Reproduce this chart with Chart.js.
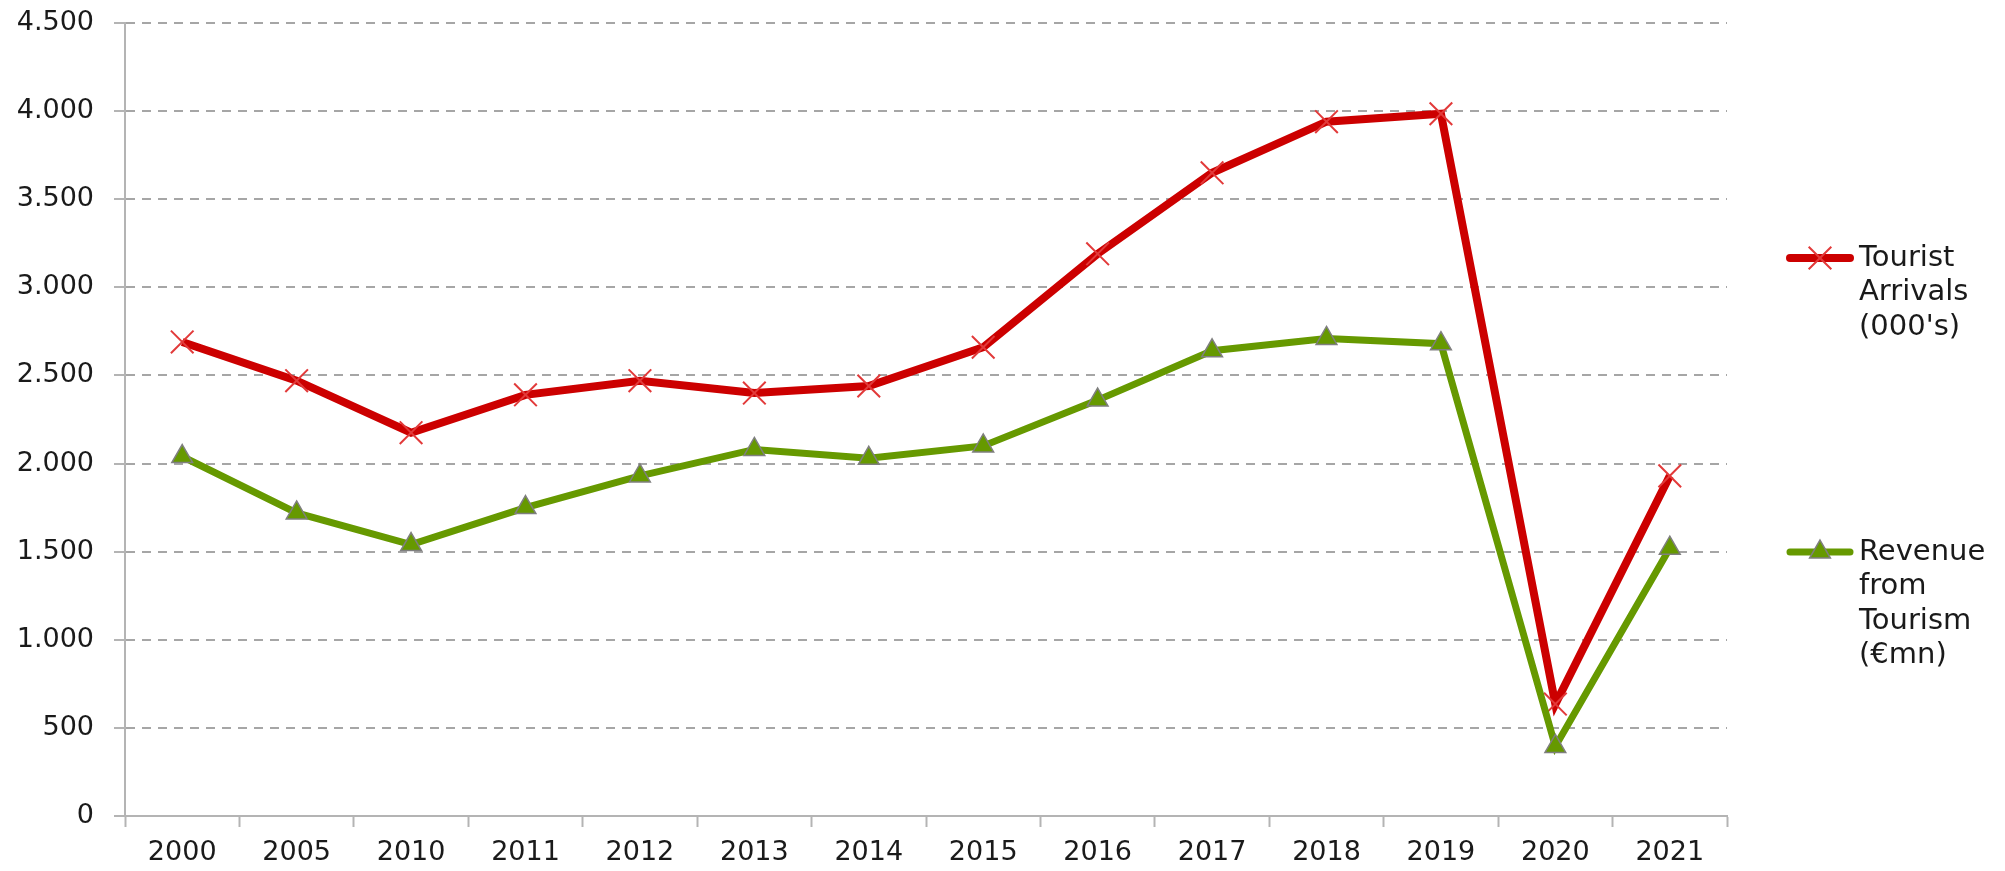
<!DOCTYPE html>
<html>
<head>
<meta charset="utf-8">
<script src="https://cdn.jsdelivr.net/npm/chart.js@4.4.1/dist/chart.umd.min.js"></script>
<style>
  html, body { margin: 0; padding: 0; background: #ffffff; }
  #wrap { width: 2005px; height: 871px; }
</style>
</head>
<body>
<div id="wrap"><canvas id="c" width="2005" height="871"></canvas></div>
<script>
const categories = ['2000','2005','2010','2011','2012','2013','2014','2015','2016','2017','2018','2019','2020','2021'];
const arrivals = [2690, 2470, 2175, 2390, 2470, 2400, 2440, 2660, 3190, 3650, 3940, 3985, 635, 1930];
const revenue  = [2040, 1720, 1540, 1750, 1930, 2080, 2030, 2100, 2360, 2640, 2710, 2680, 395, 1520];
const arrivalsLabel = ['Tourist', 'Arrivals', "(000's)"];
const revenueLabel = ['Revenue', 'from', 'Tourism', '(€mn)'];
const yMin = 0, yMax = 4500, yStep = 500;

const RED = '#cc0000';
const GREEN = '#669900';
const FONT = '"DejaVu Sans", Verdana, sans-serif';

function fmt(v) {
  return String(v).replace(/\B(?=(\d{3})+(?!\d))/g, '.');
}

const legendPlugin = {
  id: 'sideLegend',
  afterDraw(chart) {
    const ctx = chart.ctx;
    const area = chart.chartArea;
    const x0 = area.right + 63;
    const items = [
      { ds: 0, lines: arrivalsLabel, y: 258 },
      { ds: 1, lines: revenueLabel, y: 552 }
    ];
    items.forEach(it => {
      const d = chart.data.datasets[it.ds];
      ctx.save();
      ctx.strokeStyle = d.borderColor;
      ctx.lineWidth = d.borderWidth;
      ctx.lineCap = 'round';
      ctx.beginPath();
      ctx.moveTo(x0, it.y);
      ctx.lineTo(x0 + 60, it.y);
      ctx.stroke();
      ctx.restore();
      ctx.save();
      ctx.fillStyle = d.pointBackgroundColor;
      ctx.strokeStyle = d.pointBorderColor;
      ctx.lineWidth = d.pointBorderWidth;
      Chart.helpers.drawPoint(ctx, { pointStyle: d.pointStyle, radius: d.pointRadius, rotation: 0, borderWidth: d.pointBorderWidth }, x0 + 30, it.y);
      ctx.restore();
      ctx.save();
      ctx.fillStyle = '#1a1a1a';
      ctx.font = '29px ' + FONT;
      ctx.textBaseline = 'middle';
      ctx.textAlign = 'left';
      it.lines.forEach((t, i) => ctx.fillText(t, x0 + 69, it.y + i * 34.5));
      ctx.restore();
    });
  }
};

new Chart(document.getElementById('c'), {
  type: 'line',
  data: {
    labels: categories,
    datasets: [
      {
        label: arrivalsLabel.join(' '),
        data: arrivals,
        borderColor: RED,
        backgroundColor: RED,
        borderWidth: 8,
        tension: 0,
        pointStyle: 'crossRot',
        pointRadius: 16,
        pointHoverRadius: 16,
        pointBorderWidth: 2,
        pointBorderColor: '#e23a3a',
        pointBackgroundColor: '#e23a3a',
        order: 1
      },
      {
        label: revenueLabel.join(' '),
        data: revenue,
        borderColor: GREEN,
        backgroundColor: GREEN,
        borderWidth: 7,
        tension: 0,
        pointStyle: 'triangle',
        pointRadius: 12,
        pointHoverRadius: 12,
        pointBorderWidth: 1.5,
        pointBorderColor: '#7f7f7f',
        pointBackgroundColor: GREEN,
        order: 0
      }
    ]
  },
  options: {
    responsive: false,
    animation: false,
    devicePixelRatio: 1,
    layout: { padding: { left: 10, right: 278, top: 23, bottom: 2 } },
    plugins: {
      legend: { display: false },
      tooltip: { enabled: false }
    },
    scales: {
      x: {
        offset: true,
        grid: {
          display: true,
          drawOnChartArea: false,
          drawTicks: true,
          tickLength: 11,
          offset: true,
          tickColor: '#b4b4b4',
          tickWidth: 2
        },
        border: { display: true, color: '#b4b4b4', width: 2 },
        ticks: {
          color: '#1a1a1a',
          font: { family: FONT, size: 27 },
          padding: 10,
          maxRotation: 0,
          autoSkip: false
        },
        afterFit(scale) { scale.height = 53; }
      },
      y: {
        min: yMin,
        max: yMax,
        grid: {
          color: ctx => ctx.tick && ctx.tick.value === 0 ? 'rgba(0,0,0,0)' : '#a6a6a6',
          lineWidth: 2,
          drawTicks: true,
          tickLength: 11,
          tickColor: '#b4b4b4',
          tickWidth: 2,
          tickBorderDash: []
        },
        border: { display: true, color: '#b4b4b4', width: 2, dash: [9, 7] },
        ticks: {
          stepSize: yStep,
          color: '#1a1a1a',
          font: { family: FONT, size: 27, lineHeight: 0.1 },
          padding: 20,
          callback: v => fmt(v)
        },
        afterFit(scale) { scale.width = 115; }
      }
    }
  },
  plugins: [legendPlugin]
});
</script>
</body>
</html>
